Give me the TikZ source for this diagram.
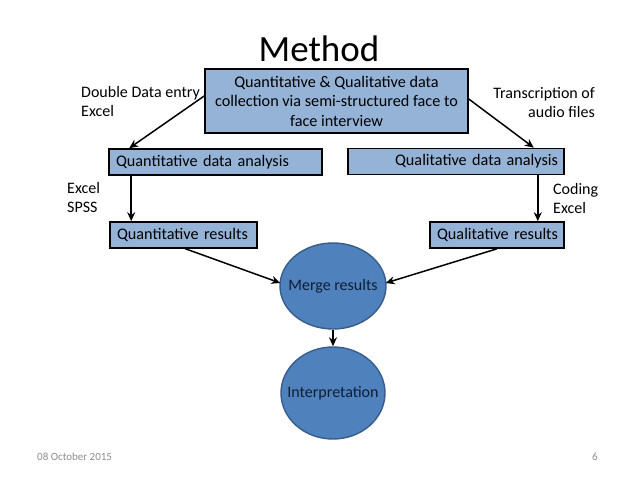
\documentclass[tikz,border=0pt]{standalone}
\usepackage{fontspec}
\setmainfont{Carlito}
\usetikzlibrary{arrows.meta,calc,shapes.geometric}
\definecolor{boxfill}{HTML}{95B3D7}
\definecolor{ellfill}{HTML}{4F81BD}
\definecolor{elldraw}{HTML}{385D8A}
\definecolor{elltext}{HTML}{0E1F33}
\definecolor{footgray}{HTML}{8C8C8C}
\begin{document}
\begin{tikzpicture}[x=1pt,y=-1pt,
  box/.style={draw=black,line width=1.6pt,fill=boxfill,rectangle,inner ysep=0pt,
    font=\fontsize{16.2}{19.5}\selectfont,text=black},
  ell/.style={ellipse,draw=elldraw,line width=1.4pt,fill=ellfill,inner sep=0pt},
  elltxt/.style={inner sep=0pt,font=\fontsize{16}{19.5}\selectfont,text=elltext},
  lbl/.style={inner sep=0pt,font=\fontsize{16}{19}\selectfont,text=black},
  foot/.style={inner sep=0pt,font=\fontsize{11}{13}\selectfont,text=footgray},
  conn/.style={line width=1.5pt,-{Stealth[length=9pt,width=8pt]}}]
\fill[white] (0,0) rectangle (638,479);
\useasboundingbox (0,0) rectangle (638,479);

\node[inner sep=0pt,anchor=base,font=\fontsize{37}{40}\selectfont] (title) at (319,61) {Method};

\node[box,minimum width=263pt,minimum height=64pt,align=center,inner xsep=2pt] (top) at (336.5,101)
  {Quantitative \& Qualitative data\\collection via semi-structured face to\\face interview};

\node[box,minimum height=26pt,text width=199pt,inner xsep=7pt,align=left] (qa) at (215.5,162) {Quantitative data analysis};
\node[box,minimum height=26pt,text width=204pt,inner xsep=6pt,align=right] (qla) at (456,161.5) {Qualitative data analysis};
\node[box,minimum height=26pt,text width=133pt,inner xsep=7pt,align=left] (qr) at (183.5,235) {Quantitative results};
\node[box,minimum height=26pt,text width=126pt,inner xsep=4pt,align=right] (qlr) at (497,235) {\mbox{Qualitative results}\hspace*{2pt}};

\node[ell,minimum width=106pt,minimum height=86pt,label={[elltxt]center:Merge results}] (merge) at (333,286) {};
\node[ell,minimum width=104pt,minimum height=92pt,label={[elltxt]center:Interpretation}] (interp) at (333,393) {};

\node[lbl,anchor=base west,align=left] (l1) at (81,116) {Double Data entry\\Excel};
\node[lbl,anchor=base east,align=right] (l2) at (595,117) {Transcription of\\audio files};
\node[lbl,anchor=base west,align=left] (l3) at (67,212) {Excel\\SPSS};
\node[lbl,anchor=base west,align=left] (l4) at (553,213) {Coding\\Excel};

\node[foot,anchor=base west] (date) at (37,460) {08 October 2015};
\node[foot,anchor=base east] (page) at (598,460) {6};

\draw[conn] ($(top.west)+(0,-5)$) -- ($(qa.north west)+(21,0)$);
\draw[conn] ($(top.east)+(0,-2)$) -- ($(qla.north east)+(-31,0)$);
\draw[conn] ($(qa.south west)+(23,0)$) -- ($(qr.north west)+(22,0)$);
\draw[conn] ($(qla.south east)+(-27,0)$) -- ($(qlr.north east)+(-27,0)$);
\draw[conn] ($(qr.south)+(2,0)$) -- ($(merge.west)+(1,-3)$);
\draw[conn] (qlr.south) -- ($(merge.east)+(-1,-3)$);
\draw[conn] (merge.south) -- (interp.north);
\end{tikzpicture}
\end{document}
